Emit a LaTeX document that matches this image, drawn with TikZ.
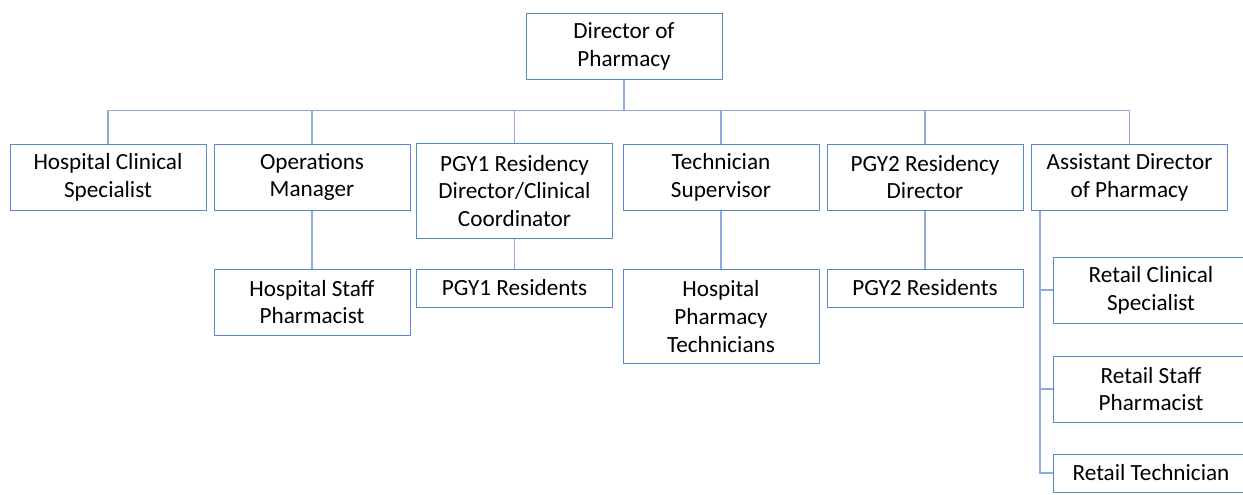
\documentclass[tikz,border=0pt]{standalone}
\usepackage{fontspec}
\setmainfont{Carlito}
\usetikzlibrary{positioning,calc,backgrounds}
\definecolor{boxblue}{HTML}{5B86D0}
\definecolor{lineblue}{HTML}{8FAADC}

\begin{document}
\begin{tikzpicture}[x=0.02cm,y=-0.02cm,
    role/.style={draw=boxblue,line width=0.5pt,fill=white,align=center,
      minimum width=3.92cm,minimum height=1.32cm,inner sep=2pt,
      font=\fontsize{13.2}{15.9}\selectfont},
    tall/.style={role,minimum height=1.89cm},
    flat/.style={role,minimum height=0.76cm},
    link/.style={draw=lineblue,line width=0.7pt}]
      \path[use as bounding box,clip] (0,0) rectangle (1243,494);

      % top
      \node[role] (dir) at (624,46) {Director of\\Pharmacy};

      % first level
      \node[role] (hcs) at (108,177) {Hospital Clinical\\Specialist};
      \node[role] (om) at (312,177) {Operations\\Manager};
      \node[tall] (pgy1) at (514.5,191) {PGY1 Residency\\Director/Clinical\\Coordinator};
      \node[role] (ts) at (721,177) {Technician\\Supervisor};
      \node[role] (pgy2) at (925,177) {PGY2 Residency\\Director};
      \node[role] (asst) at (1129.5,177) {Assistant Director\\of Pharmacy};

      % second level
      \node[role] (hsp) at (312,302) {Hospital Staff\\Pharmacist};
      \node[flat] (res1) at (514.5,288) {PGY1 Residents};
      \node[tall] (hpt) at (721,316.5) {Hospital\\Pharmacy\\Technicians};
      \node[flat] (res2) at (925,288) {PGY2 Residents};

      % retail column
      \node[role] (rcs) at (1151,290) {Retail Clinical\\Specialist};
      \node[role] (rsp) at (1151,389) {Retail Staff\\Pharmacist};
      \node[flat] (rt) at (1151,473) {Retail Technician};
      \coordinate (spine) at ($(asst.south west)+(9,0)$);

      \begin{scope}[on background layer]
      \draw[link](dir.south) -- ++(0,31) -| (hcs.north);
      \draw[link](dir.south) -- ++(0,31) -| (om.north);
      \draw[link](dir.south) -- ++(0,31) -| (pgy1.north);
      \draw[link](dir.south) -- ++(0,31) -| (ts.north);
      \draw[link](dir.south) -- ++(0,31) -| (pgy2.north);
      \draw[link](dir.south) -- ++(0,31) -| (asst.north);

      \draw[link](om) -- (hsp);
      \draw[link](pgy1) -- (res1);
      \draw[link](ts) -- (hpt);
      \draw[link](pgy2) -- (res2);

      \draw[link](spine) |- (rcs.west);
      \draw[link](spine) |- (rsp.west);
      \draw[link](spine) |- (rt.west);
      \end{scope}
\end{tikzpicture}
\end{document}
